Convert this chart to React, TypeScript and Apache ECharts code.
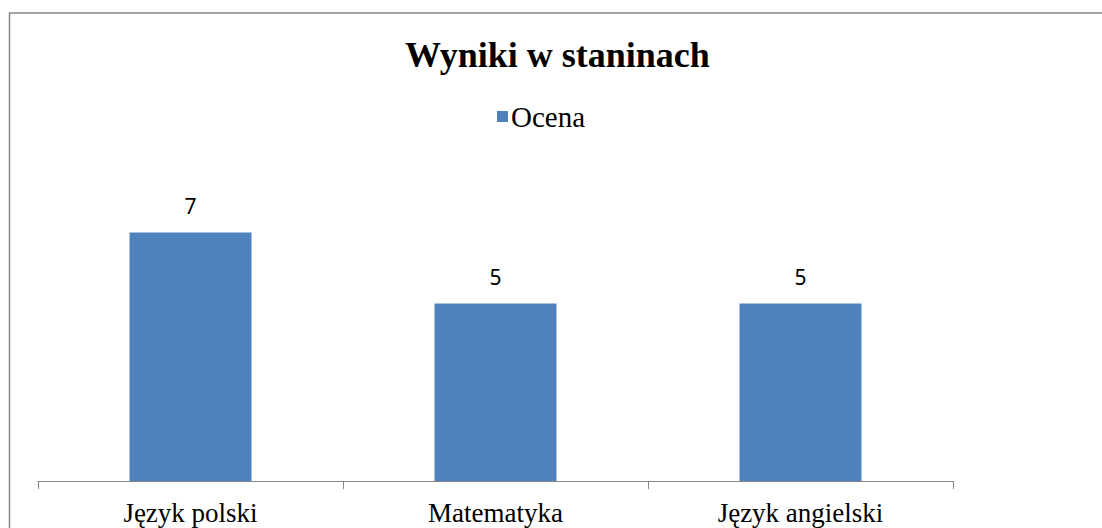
import React, { useEffect, useRef } from "react";
import * as echarts from "echarts";

const categories = ["Język polski", "Matematyka", "Język angielski"];
const values = [7, 5, 5];
const seriesName = "Ocena";
const titleText = "Wyniki w staninach";

export default function App() {
  const ref = useRef<HTMLDivElement>(null);
  useEffect(() => {
    if (!ref.current) return;
    const chart = echarts.init(ref.current, undefined, { renderer: "svg" });
    chart.setOption({
      animation: false,
      backgroundColor: "#ffffff",
      title: {
        text: titleText,
        left: 405,
        top: 37,
        padding: 0,
        textStyle: {
          fontFamily: "Liberation Serif",
          fontWeight: "bold",
          fontSize: 36,
          color: "#000000",
        },
      },
      legend: {
        data: [seriesName],
        left: 497,
        top: 102,
        padding: 0,
        icon: "rect",
        itemWidth: 11,
        itemHeight: 11,
        itemGap: 10,
        textStyle: {
          fontFamily: "Liberation Serif",
          fontSize: 29,
          color: "#000000",
          padding: [0, 0, 0, -2],
        },
      },
      graphic: [
        {
          type: "rect",
          silent: true,
          shape: { x: 9.5, y: 13, width: 1300, height: 700 },
          style: { fill: "none", stroke: "#868686", lineWidth: 1.5 },
        },
      ],
      grid: { left: 38, right: 149, top: 197, bottom: 47 },
      xAxis: {
        type: "category",
        data: categories,
        axisLine: { lineStyle: { color: "#868686", width: 1 } },
        axisTick: { show: true, length: 8, alignWithLabel: false, lineStyle: { color: "#868686" } },
        axisLabel: {
          margin: 18,
          fontFamily: "Liberation Serif",
          fontSize: 27,
          color: "#000000",
        },
      },
      yAxis: {
        type: "value",
        min: 0,
        max: 8,
        show: false,
        splitLine: { show: false },
      },
      series: [
        {
          name: seriesName,
          type: "bar",
          data: values,
          barWidth: "40%",
          itemStyle: { color: "#4F81BD" },
          label: {
            show: true,
            position: "top",
            distance: 16,
            fontFamily: "Noto Sans",
            fontSize: 21,
            color: "#000000",
          },
        },
      ],
    });
    return () => chart.dispose();
  }, []);
  return (
    <div
      ref={ref}
      style={{ position: "absolute", left: 0, top: 0, width: 1102, height: 528 }}
    />
  );
}
